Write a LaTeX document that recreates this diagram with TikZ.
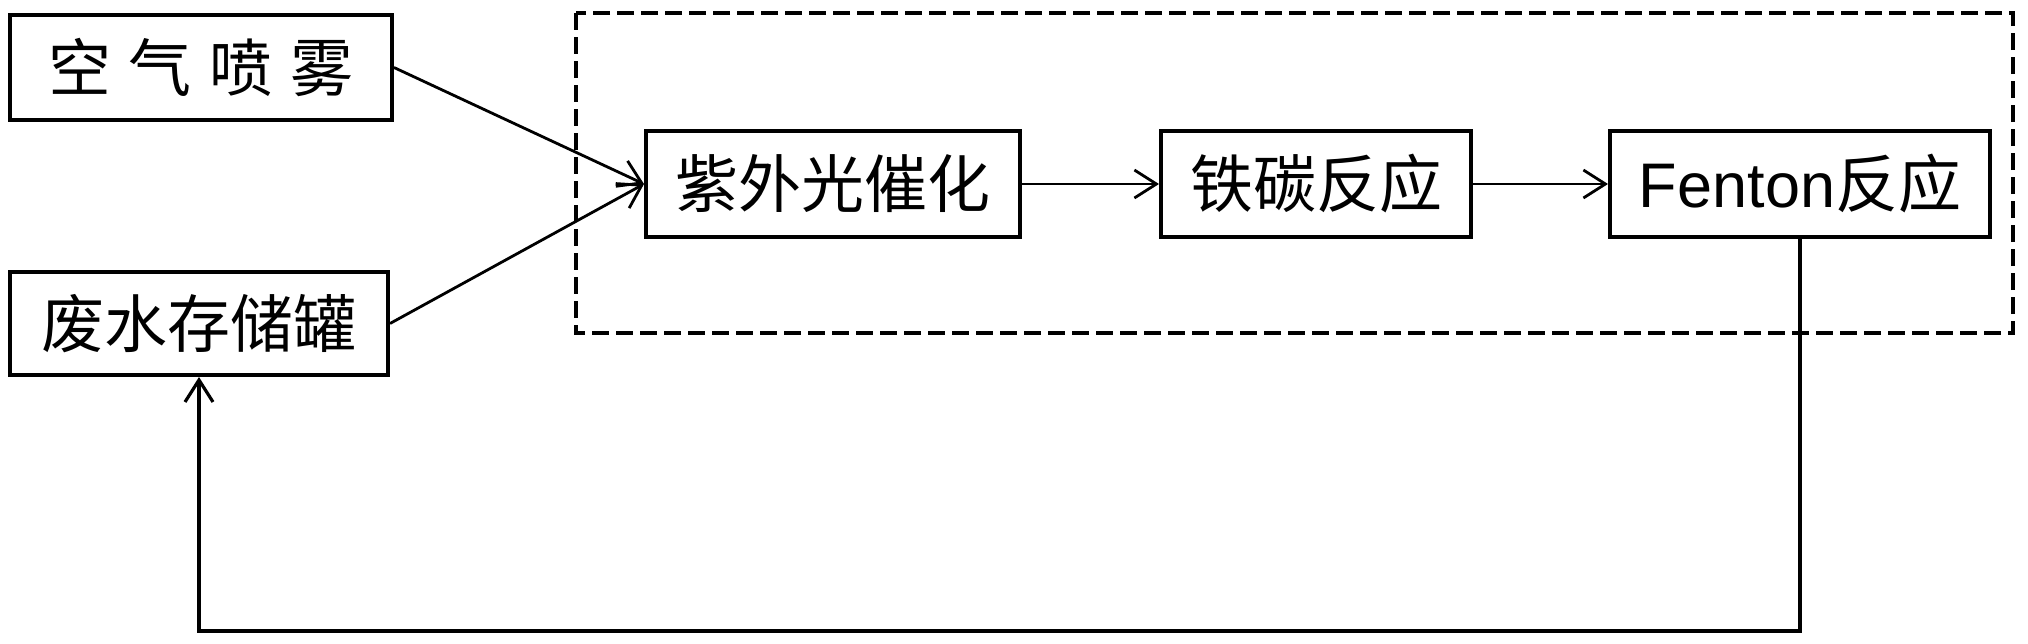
\documentclass[tikz,border=0pt]{standalone}
\usepackage{fontspec}
\setmainfont{Liberation Sans}
\newfontfamily\cjk{Noto Sans CJK SC}
\usetikzlibrary{arrows.meta}
\begin{document}
\begin{tikzpicture}[x=0.5pt,y=-0.5pt,
  box/.style={draw, line width=2pt, inner sep=0pt, minimum height=53pt,
    font=\fontsize{31.5pt}{32pt}\selectfont},
  arr/.style={line width=1.4pt, -{Straight Barb[length=11pt,width=14pt,line width=1.4pt]}},
  fb/.style={line width=2pt, -{Straight Barb[length=11pt,width=14pt,line width=1.6pt]}},
  group/.style={draw, line width=2.25pt, dash pattern=on 8.5pt off 3.5pt}]
\useasboundingbox (0,0) rectangle (2028,643);
\draw[group] (576,13) rectangle (2013,333);
\node[box, minimum width=191pt, minimum height=52.5pt] (air) at (201,67.5)
  {\cjk 空\hspace{9pt}气\hspace{9pt}喷\hspace{9pt}雾};
\node[box, minimum width=189pt, minimum height=51.5pt] (ww) at (199,323.5)
  {\cjk 废水存储罐};
\node[box, minimum width=187pt] (uv) at (833,184) {\cjk 紫外光催化};
\node[box, minimum width=155pt] (fe) at (1316,184) {\cjk 铁碳反应};
\node[box, minimum width=190pt] (fen) at (1800,184) {Fenton{\cjk 反应}};
\coordinate (c1) at (1800,631);
\draw[arr] (air.east) -- (uv.west);
\draw[arr] (ww.east) -- (uv.west);
\draw[arr] (uv.east) -- (fe.west);
\draw[arr] (fe.east) -- (fen.west);
\draw[fb] (fen.south) -- (c1) -| (ww.south);
\end{tikzpicture}
\end{document}
